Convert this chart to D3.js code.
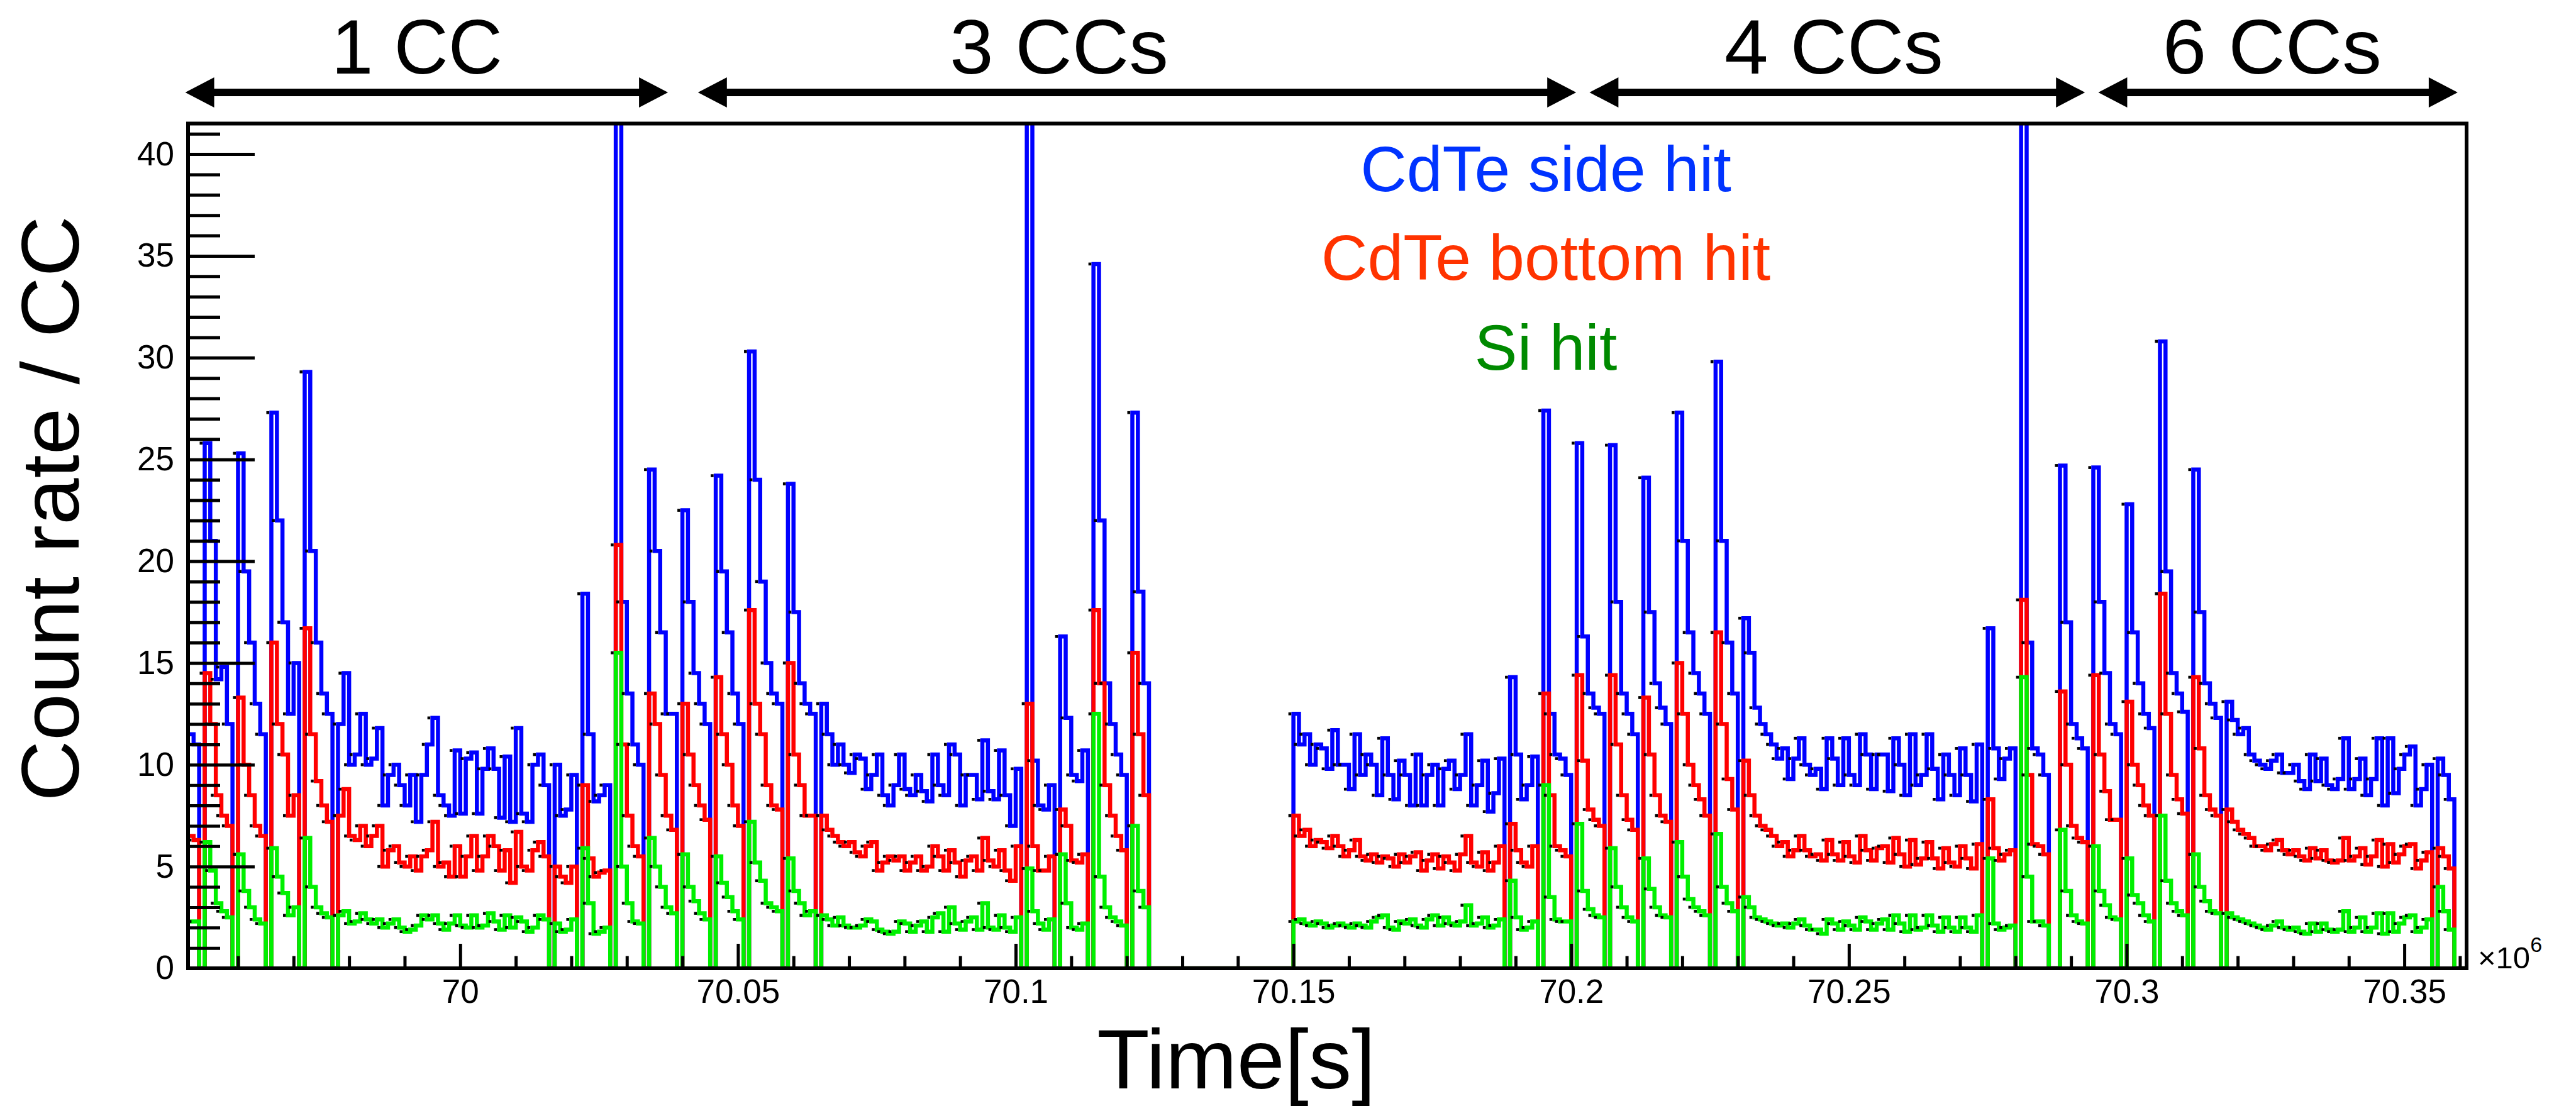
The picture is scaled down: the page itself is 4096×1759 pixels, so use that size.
<!DOCTYPE html>
<html>
<head>
<meta charset="utf-8">
<script src="https://cdn.jsdelivr.net/npm/d3@7"></script>
<style>
html, body { margin: 0; padding: 0; background: #fff; }
svg { display: block; }
text { font-family: "Liberation Sans", Arial, Helvetica, sans-serif; }
</style>
</head>
<body>
<div id="chart"></div>
<script>
// histogram binning (x10^6 s)
const binStart = 69.951;
const binWidth = 0.001;

// ===== count rate per bin =====
const sideHit = [
  11.5, 11, 0, 25.8, 21, 14.2, 14.8, 12, 0, 25.3,
  19.5, 16, 13, 11.5, 0, 27.3, 22, 17, 12.5, 15,
  0, 29.3, 20.5, 16, 13.5, 12.5, 0, 12, 14.5, 10,
  10.5, 12.5, 10, 10.3, 11.8, 8, 9.5, 10, 9, 8,
  9.5, 7.2, 9.5, 11, 12.3, 8.5, 8, 7.5, 10.7, 7.6,
  10.3, 10.6, 7.6, 9.8, 10.8, 9.8, 7.4, 10.4, 7.2, 11.8,
  7.6, 7.2, 10, 10.5, 9, 0, 10, 7.5, 7.8, 9.5,
  0, 18.4, 11.5, 8.2, 8.5, 9, 0, 50, 18, 13.5,
  11, 10, 0, 24.5, 20.5, 16.5, 12.5, 12.5, 0, 22.5,
  18, 14.5, 13, 12, 0, 24.2, 19.5, 16.5, 13.5, 12,
  0, 30.3, 24, 19, 15, 13.5, 13, 0, 23.8, 17.5,
  14, 13, 12.5, 0, 13, 11.5, 10, 11, 10, 9.6,
  10.5, 10.3, 8.8, 9.5, 10.5, 8.5, 8, 9, 10.5, 8.8,
  8.5, 9.5, 8.7, 8.2, 10.5, 9, 8.5, 11, 10.5, 8,
  9.5, 9.5, 8.3, 11.2, 8.7, 8.3, 10.7, 8.5, 7, 9.8,
  0, 50, 10.2, 8, 7.8, 9, 0, 16.3, 12.3, 9.5,
  9.2, 10.7, 0, 34.6, 22, 14, 12, 10.5, 9.5, 0,
  27.3, 18.5, 14, 0, 0, 0, 0, 0, 0, 0,
  0, 0, 0, 0, 0, 0, 0, 0, 0, 0,
  0, 0, 0, 0, 0, 0, 0, 0, 0, 12.5,
  11, 11.5, 10, 11, 10.8, 9.8, 11.7, 10, 10, 8.8,
  11.5, 9.5, 10.5, 10, 8.5, 11.3, 9.5, 8.3, 10.2, 9.5,
  8, 10.5, 8, 9.5, 10, 8, 9.8, 10.2, 8.8, 9.5,
  11.5, 8, 9, 10.2, 7.7, 8.6, 10.3, 0, 14.3, 10.5,
  8.3, 9, 10.4, 0, 27.4, 12.5, 10.5, 10.3, 9.5, 0,
  25.8, 16.3, 13.5, 12.8, 12.5, 0, 25.7, 18, 13.5, 12.5,
  11.5, 0, 24.1, 17.5, 14, 12.8, 12, 0, 27.3, 21,
  16.5, 14.5, 13.5, 12.5, 0, 29.8, 21, 16, 13.5, 0,
  17.2, 15.5, 12.8, 12, 11.5, 11, 10.3, 10.8, 9.3, 10.3,
  11.3, 10, 9.5, 9.8, 8.8, 11.3, 10.3, 9, 11.3, 9.5,
  9, 11.5, 10.5, 8.8, 10.5, 10.5, 8.7, 11.3, 10, 8.5,
  11.5, 9, 9.5, 11.5, 9.8, 8.3, 10.5, 9.5, 8.5, 10.8,
  9.5, 8.2, 11, 0, 16.7, 10.8, 9.3, 10.3, 10.8, 0,
  50, 16, 10.8, 10.5, 9.5, 0, 0, 24.7, 17, 12,
  11.3, 10.8, 0, 24.6, 18, 14.5, 12, 11.5, 0, 22.8,
  16.5, 14, 12.5, 11.8, 0, 30.8, 19.5, 14.5, 13.5, 12.6,
  0, 24.5, 17.5, 14, 13, 12.3, 0, 13.1, 12.2, 11.5,
  11.8, 10.5, 10.2, 10, 9.8, 10.2, 10.5, 9.6, 9.6, 10,
  9.2, 8.8, 10.5, 9.2, 10.3, 9, 8.8, 9.3, 11.3, 8.8,
  9.3, 10.3, 8.5, 9.3, 11.3, 8, 11.3, 8.6, 9.8, 10.5,
  10.9, 8, 8.8, 10, 0, 10.3, 9.5, 8.3, 0, 0
];

const bottomHit = [
  6.5, 6.3, 0, 14.5, 12, 8.5, 7.5, 7, 0, 13.3,
  10, 8.5, 7, 6.5, 0, 16, 12, 10.5, 7.5, 8.5,
  0, 16.7, 11.5, 9.2, 8, 7.2, 0, 7.5, 8.8, 6.5,
  6.3, 7, 6, 6.5, 7, 5, 5.8, 6, 5.2, 5,
  5.5, 4.8, 5.5, 5.8, 7.2, 5, 5.2, 4.5, 6, 4.5,
  5.5, 6.5, 4.8, 5.5, 6.5, 6, 4.8, 5.8, 4.2, 6.7,
  5, 4.8, 5.8, 6.2, 5.5, 0, 5, 4.5, 4.2, 5,
  0, 9, 5.4, 4.5, 4.7, 4.8, 0, 20.8, 11, 7.5,
  6, 5.5, 0, 13.5, 12, 9.5, 7.5, 6.8, 0, 13,
  10.5, 9, 8, 7.3, 0, 14.3, 11.5, 10, 8, 7,
  0, 17.6, 13, 11.5, 9, 8, 7.8, 0, 15, 10.5,
  9, 7.5, 7.5, 0, 7.5, 6.8, 6.5, 6.2, 6, 6.2,
  5.7, 5.5, 6, 6.2, 4.8, 5.2, 5.5, 5.3, 5.5, 4.8,
  5.2, 5.5, 4.8, 5, 6, 5.5, 4.8, 5.8, 5.2, 4.5,
  5.3, 5.5, 4.8, 6.4, 5.3, 5, 5.8, 4.8, 4.3, 6,
  0, 13, 6, 4.8, 4.8, 5.5, 0, 7.8, 7, 5.3,
  5.2, 5.6, 0, 17.6, 14, 9, 7.5, 6.5, 5.8, 0,
  15.5, 11.5, 8.5, 0, 0, 0, 0, 0, 0, 0,
  0, 0, 0, 0, 0, 0, 0, 0, 0, 0,
  0, 0, 0, 0, 0, 0, 0, 0, 0, 7.5,
  6.5, 6.8, 6, 6.3, 6.2, 5.9, 6.5, 6, 5.5, 5.8,
  6.3, 5.5, 5.3, 5.6, 5.2, 5.5, 5.4, 5, 5.6, 5.2,
  5.5, 5.7, 4.8, 5.3, 5.6, 4.9, 5.5, 5.2, 4.8, 5.6,
  6.5, 5.2, 5, 5.7, 4.8, 5.2, 6, 0, 7.1, 5.8,
  5.2, 5, 6, 0, 13.5, 8.5, 6, 5.8, 5.5, 0,
  14.4, 10.2, 7.8, 7.3, 7, 0, 14.4, 11, 8.5, 7.3,
  6.8, 0, 13.3, 10.5, 8.5, 7.5, 7.2, 0, 15, 12.5,
  10, 9, 8.3, 7.5, 0, 16.5, 12, 9.3, 7.8, 0,
  10.2, 8.5, 7.5, 7, 6.8, 6.5, 6, 6.2, 5.5, 5.8,
  6.5, 5.8, 5.5, 5.6, 5.3, 6.3, 5.6, 5.3, 6.2, 5.5,
  5.2, 6.5, 5.8, 5.3, 5.9, 6, 5.2, 6.4, 5.6, 5,
  6.3, 5.1, 5.4, 6.2, 5.4, 4.9, 5.9, 5.2, 5, 6,
  5.4, 4.9, 6.1, 0, 8.3, 5.9, 5.3, 5.6, 5.8, 0,
  18.1, 9.5, 6.1, 6, 5.6, 0, 0, 13.6, 10, 7,
  6.4, 6.2, 0, 14.4, 10.5, 8.7, 7.3, 7.3, 0, 13.1,
  10, 9, 8, 7.5, 0, 18.4, 12.5, 9.5, 8.3, 7.6,
  0, 14.3, 10.8, 8.5, 7.8, 7.5, 0, 7.8, 7.2, 6.8,
  6.6, 6.4, 6, 6, 5.8, 6.1, 6.3, 5.8, 5.6, 5.8,
  5.5, 5.3, 5.9, 5.4, 5.8, 5.3, 5.2, 5.3, 6.4, 5.3,
  5.5, 5.9, 5.1, 5.5, 6.3, 5, 6.1, 5.2, 5.6, 6,
  6.1, 4.9, 5.3, 5.7, 0, 5.9, 5.5, 4.9, 0, 0
];

const siHit = [
  2.3, 2.3, 0, 6.2, 4.8, 3.2, 2.8, 2.5, 0, 5.6,
  3.8, 3, 2.4, 2.2, 0, 5.9, 4.5, 3.7, 2.6, 3,
  0, 6.4, 4, 3, 2.7, 2.5, 0, 2.6, 2.8, 2.2,
  2.3, 2.7, 2.4, 2.2, 2.4, 2, 2.2, 2.4, 2, 1.8,
  1.9, 2.1, 2.6, 2.4, 2.6, 2.2, 1.9, 2.2, 2.6, 2.1,
  2, 2.6, 2, 2.1, 2.7, 2.3, 1.9, 2.6, 2, 2.5,
  2.3, 1.8, 2, 2.6, 2.4, 0, 2.2, 1.8, 1.9, 2.4,
  0, 5.9, 3.2, 1.7, 1.8, 2, 0, 15.5, 5, 3.2,
  2.3, 2.2, 0, 6.4, 5, 4, 3, 2.7, 0, 5.6,
  4, 3.3, 2.7, 2.4, 0, 5.5, 4.2, 3.5, 2.8, 2.4,
  0, 7.2, 5.2, 4.3, 3.2, 3, 2.8, 0, 5.4, 3.8,
  3.2, 2.6, 2.8, 0, 2.6, 2.4, 2.1, 2.5, 2.1, 2,
  2, 2.1, 2.4, 2.3, 1.9, 1.8, 1.7, 1.8, 2.3, 2.2,
  1.8, 2.1, 2.3, 1.8, 2.5, 2.7, 1.8, 3, 2.2, 1.9,
  2.3, 2.5, 1.9, 3.2, 2, 1.9, 2.6, 2, 1.8, 2.5,
  0, 4.9, 2.8, 2.2, 1.9, 2.4, 0, 5.6, 3.2, 2,
  1.9, 2.2, 0, 12.5, 4.5, 3, 2.5, 2.3, 2.1, 0,
  7, 3.8, 3, 0, 0, 0, 0, 0, 0, 0,
  0, 0, 0, 0, 0, 0, 0, 0, 0, 0,
  0, 0, 0, 0, 0, 0, 0, 0, 0, 2.3,
  2.4, 2.2, 2.1, 2.3, 2.2, 2, 2.1, 2.2, 2.1, 2,
  2.2, 2.1, 2, 2.3, 2.5, 2.6, 2, 1.9, 2.3, 2.2,
  2.4, 2.1, 2, 2.4, 2.6, 2.1, 2.5, 2.2, 2.1, 2.3,
  3.1, 2.1, 2.2, 2.5, 2, 2.1, 2.4, 0, 4.3, 2.5,
  1.9, 2, 2.3, 0, 9, 3.5, 2.4, 2.3, 2.3, 0,
  7.1, 3.8, 2.9, 2.6, 2.5, 0, 5.9, 4, 3, 2.5,
  2.3, 0, 5.4, 3.9, 3, 2.6, 2.5, 0, 6.2, 4.5,
  3.4, 3, 2.8, 2.6, 0, 6.6, 4, 3.2, 2.8, 0,
  3.5, 3, 2.5, 2.4, 2.3, 2.2, 2.1, 2.2, 2, 2.2,
  2.4, 2.1, 1.9, 1.9, 1.7, 2.4, 2.2, 1.9, 2.3, 2.1,
  1.9, 2.5, 2.3, 1.9, 2.2, 2.4, 1.9, 2.6, 2.2, 1.8,
  2.6, 1.9, 2, 2.6, 2.1, 1.8, 2.5, 2, 1.8, 2.5,
  2, 1.8, 2.6, 0, 5.4, 2.2, 1.9, 2, 2.1, 0,
  14.3, 4.5, 2.3, 2.3, 2.1, 0, 0, 6.8, 3.8, 2.6,
  2.3, 2.2, 0, 6, 3.8, 3.1, 2.5, 2.4, 0, 5.4,
  3.6, 3.2, 2.6, 2.3, 0, 7.5, 4.3, 3.2, 2.8, 2.6,
  0, 5.6, 4, 3.3, 2.8, 2.7, 0, 2.7, 2.5, 2.4,
  2.3, 2.2, 2.1, 2, 1.9, 2.1, 2.3, 2, 1.9, 2,
  1.8, 1.7, 2.2, 1.8, 2.2, 1.9, 1.8, 1.9, 2.8, 1.8,
  2, 2.5, 1.8, 2, 2.7, 1.7, 2.7, 1.8, 2.2, 2.5,
  2.6, 1.8, 2, 2.4, 0, 4, 2.8, 1.9, 0, 0
];

// ===== axis ticks =====
const xMajor = [70, 70.05, 70.1, 70.15, 70.2, 70.25, 70.3, 70.35];
const yMajor = [0, 5, 10, 15, 20, 25, 30, 35, 40];

// ===== annotations: CC periods on top =====
const ccLabels = ['1 CC', '3 CCs', '4 CCs', '6 CCs'];
const ccStart = [69.9505, 70.0428, 70.2033, 70.2949];
const ccEnd = [70.0374, 70.2009, 70.2925, 70.3596];
const ccMid = [69.9922, 70.1078, 70.2473, 70.3262];

const legendNames = ['CdTe side hit', 'CdTe bottom hit', 'Si hit'];
const legendColors = ['#0033ff', '#ff3300', '#008a00'];
const lineColors = ['#0000ff', '#ff0000', '#00f000'];

//===================== plot size =========================
const W = 4096, H = 1759;
const frame = {left: 299, right: 3922, top: 196.5, bottom: 1540};
const width = frame.right - frame.left;
const height = frame.bottom - frame.top;

const svg = d3.select('#chart').append('svg')
  .attr('width', W).attr('height', H)
  .style('background', '#fff');

const g = svg.append('g')
  .attr('transform', 'translate(' + frame.left + ',' + frame.top + ')');

const x = d3.scaleLinear().domain([69.951, 70.3612]).range([0, width]);
const y = d3.scaleLinear().domain([0, 41.5]).range([height, 0]);

svg.append('defs').append('clipPath').attr('id', 'plotClip')
  .append('rect').attr('x', 0).attr('y', 0).attr('width', width).attr('height', height);

//===================== data =========================
const series = [sideHit, bottomHit, siHit];
const dataLayer = g.append('g').attr('clip-path', 'url(#plotClip)');

const stepLine = d3.line()
  .x(d => x(d[0]))
  .y(d => y(d[1]))
  .curve(d3.curveStepAfter);

series.forEach((vals, k) => {
  const pts = vals.map((v, i) => [binStart + i * binWidth, v]);
  pts.push([binStart + vals.length * binWidth, vals[vals.length - 1]]);
  dataLayer.append('path')
    .datum(pts)
    .attr('d', stepLine)
    .attr('fill', 'none')
    .attr('stroke', lineColors[k])
    .attr('stroke-width', 6.5)
    .attr('stroke-linejoin', 'miter');
});

// small black markers beside the steps
series.forEach(vals => {
  const pts = vals.map((v, i) => [binStart + i * binWidth, v]).filter(d => d[1] > 0);
  dataLayer.append('g').selectAll('rect')
    .data(pts)
    .enter()
    .append('rect')
    .attr('x', d => x(d[0]) - 8)
    .attr('y', d => y(d[1]) - 2.3)
    .attr('width', 4.6)
    .attr('height', 4.6)
    .attr('fill', '#000');
});

//===================== axes =========================
const yMinor = d3.range(0, 42).filter(v => v % 5 !== 0);
const xMinor = d3.range(6996, 7037).filter(v => v % 5 !== 0).map(v => v / 100);

function styleAxis(sel) {
  sel.select('.domain').remove();
  sel.selectAll('line').attr('stroke', '#000').attr('stroke-width', 5);
  sel.selectAll('text')
    .attr('fill', '#000')
    .style('font-size', '53px')
    .style('font-family', '"Liberation Sans", Arial, Helvetica, sans-serif');
}

g.append('g')
  .call(d3.axisLeft(y).tickValues(yMajor).tickSize(-106).tickPadding(22).tickFormat(d3.format('d')))
  .call(styleAxis);
g.append('g')
  .call(d3.axisLeft(y).tickValues(yMinor).tickSize(-51).tickFormat(''))
  .call(styleAxis);

g.append('g')
  .attr('transform', 'translate(0,' + height + ')')
  .call(d3.axisBottom(x).tickValues(xMajor).tickSize(-39).tickPadding(17)
    .tickFormat(d => String(+d.toFixed(2))))
  .call(styleAxis);
g.append('g')
  .attr('transform', 'translate(0,' + height + ')')
  .call(d3.axisBottom(x).tickValues(xMinor).tickSize(-19.5).tickFormat(''))
  .call(styleAxis);

// frame
g.append('rect')
  .attr('x', 0).attr('y', 0).attr('width', width).attr('height', height)
  .attr('fill', 'none').attr('stroke', '#000').attr('stroke-width', 6);

// x10^6 exponent
const expo = svg.append('text')
  .attr('x', frame.right + 18).attr('y', frame.bottom)
  .style('font-size', '49px').attr('fill', '#000');
expo.append('tspan').text('\u00d710');
expo.append('tspan').attr('dy', -26).style('font-size', '34px').text('6');

// axis titles
svg.append('text')
  .attr('transform', 'translate(125,809) rotate(-90)')
  .attr('text-anchor', 'middle')
  .attr('textLength', 931).attr('lengthAdjust', 'spacingAndGlyphs')
  .style('font-size', '130px')
  .text('Count rate / CC');

svg.append('text')
  .attr('x', frame.left + x(70.1397)).attr('y', 1731)
  .attr('text-anchor', 'middle')
  .attr('textLength', 443).attr('lengthAdjust', 'spacingAndGlyphs')
  .style('font-size', '134px')
  .text('Time[s]');

//===================== CC arrows =========================
const arrowY = 147, headLen = 46, headHalf = 24, shaft = 6;
ccLabels.forEach((lab, i) => {
  const a = frame.left + x(ccStart[i]);
  const b = frame.left + x(ccEnd[i]);
  svg.append('path')
    .attr('d',
      'M' + a + ',' + arrowY +
      'L' + (a + headLen) + ',' + (arrowY - headHalf) +
      'L' + (a + headLen) + ',' + (arrowY - shaft) +
      'L' + (b - headLen) + ',' + (arrowY - shaft) +
      'L' + (b - headLen) + ',' + (arrowY - headHalf) +
      'L' + b + ',' + arrowY +
      'L' + (b - headLen) + ',' + (arrowY + headHalf) +
      'L' + (b - headLen) + ',' + (arrowY + shaft) +
      'L' + (a + headLen) + ',' + (arrowY + shaft) +
      'L' + (a + headLen) + ',' + (arrowY + headHalf) + 'Z')
    .attr('fill', '#000');
  svg.append('text')
    .attr('x', frame.left + x(ccMid[i])).attr('y', 117)
    .attr('text-anchor', 'middle')
    .attr('textLength', i === 0 ? 272 : 348).attr('lengthAdjust', 'spacingAndGlyphs')
    .style('font-size', '122px')
    .text(lab);
});

//===================== legend text =========================
const legendY = [304, 445, 588];
legendNames.forEach((name, i) => {
  svg.append('text')
    .attr('x', 2458).attr('y', legendY[i])
    .attr('text-anchor', 'middle')
    .attr('fill', legendColors[i])
    .style('font-size', '102px')
    .text(name);
});
</script>
</body>
</html>
